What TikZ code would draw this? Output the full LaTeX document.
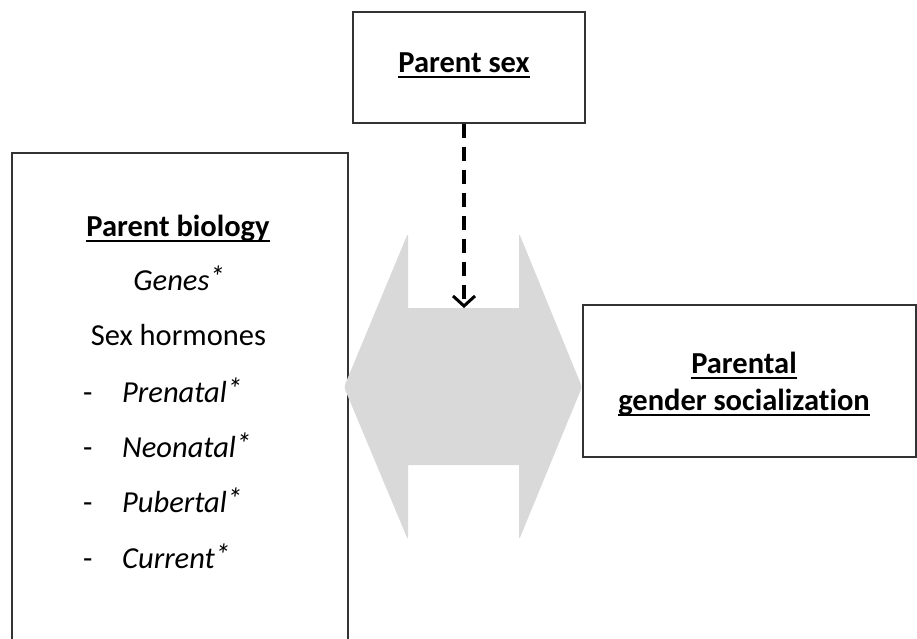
\documentclass[tikz,border=0pt]{standalone}
\usepackage{fontspec}
\setmainfont[Ligatures=NoCommon]{Carlito}
\usetikzlibrary{arrows.meta}
\newcommand\hd[1]{\textbf{\setbox0\hbox{#1}\rlap{\rule[-6pt]{\wd0}{1.8pt}}\box0}}
\newcommand\hiast{\raisebox{0.08em}{*}}

\tikzset{
	box/.style={draw=black!80, line width=1.3pt},
	txt/.style={inner sep=0pt, font=\fontsize{30.5}{37}\selectfont},
	bigarrow/.style={fill=black!15},
	dasharrow/.style={line width=3.4pt, dash pattern=on 14pt off 9pt,
		-{Straight Barb[length=10pt, width=22pt, line width=3pt]}}
}

\begin{document}
\begin{tikzpicture}[x=1pt, y=-1pt]
		%%%%% START %%%%%
		\useasboundingbox (0, 0) rectangle (917, 638);
		\clip (0, 0) rectangle (917, 638);
		
		% boxes
		\node[box, minimum width=336pt, minimum height=520pt] (bio) at (180, 413) {};
		\node[box, minimum width=232pt, minimum height=111pt] (sex) at (469, 67.5) {};
		\node[box, minimum width=333pt, minimum height=152pt] (soc) at (749.5, 381) {};
		
		% parent biology
		\node[txt, anchor=base] (biotitle) at (178, 236) {\hd{Parent biology}};
		\node[txt, anchor=base] (genes) at (179, 290) {\textit{Genes\hiast}};
		\node[txt, anchor=base] (hormones) at (178.5, 345) {Sex hormones};
		\foreach \name/\y/\word in {prenatal/402/Prenatal, neonatal/457/Neonatal,
			pubertal/512/Pubertal, current/568/Current}
			\node[txt, anchor=base west] (\name) at (83, \y) {\makebox[39pt][l]{-}\textit{\word\hiast}};
		
		% other labels
		\node[txt, anchor=base] (sexlabel) at (464, 72) {\hd{Parent sex}};
		\node[txt, anchor=base] (soclabelA) at (744, 373) {\hd{Parental}};
		\node[txt, anchor=base] (soclabelB) at (744, 410) {\hd{gender socialization}};
		
		% double arrow
		\fill[bigarrow] (344, 387) [rounded corners=3pt] -- (408, 233) [sharp corners] -- (408, 308)
			-- (519, 308) [rounded corners=3pt] -- (519, 233) -- (582, 387) -- (519, 540)
			[sharp corners] -- (519, 465) -- (408, 465) [rounded corners=3pt] -- (408, 540) -- cycle;
		
		\coordinate (tip) at (464, 308);
		\draw[dasharrow] (sex.south -| tip) -- (tip);
		
		%%%%% END %%%%%
\end{tikzpicture}
\end{document}
